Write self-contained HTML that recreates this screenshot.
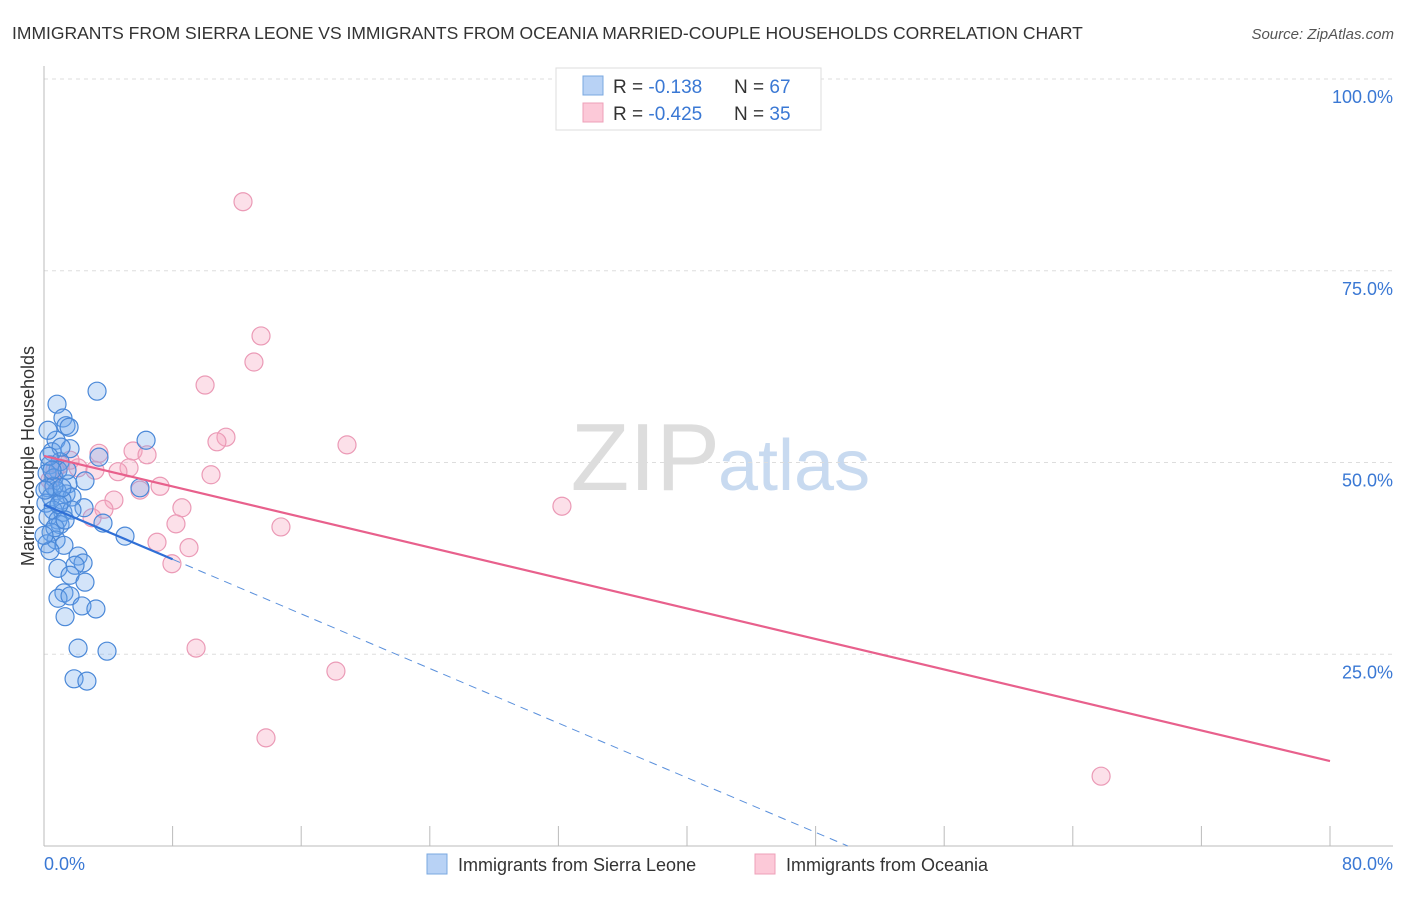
<!DOCTYPE html>
<html><head><meta charset="utf-8"><style>
body{margin:0;background:#fff;font-family:"Liberation Sans",sans-serif}
svg text{font-family:"Liberation Sans",sans-serif}
</style></head><body>
<svg id="c" width="1406" height="892" xmlns="http://www.w3.org/2000/svg">
<text x="12" y="39" font-size="17.5" fill="#333">IMMIGRANTS FROM SIERRA LEONE VS IMMIGRANTS FROM OCEANIA MARRIED-COUPLE HOUSEHOLDS CORRELATION CHART</text>
<text x="1394" y="39" font-size="15" fill="#555" text-anchor="end" font-style="italic">Source: ZipAtlas.com</text>
<text x="720" y="490" font-size="96" fill="#ddd" text-anchor="end" font-family="Liberation Serif">ZIP</text>
<text x="718" y="490" font-size="72" fill="#c8daf0">atlas</text>
<g id="grid"></g><g id="axes"></g><g id="marks"></g>
<text transform="translate(34,456) rotate(-90)" font-size="18" fill="#333" text-anchor="middle">Married-couple Households</text>
<g>
<rect x="556" y="68" width="265" height="62" fill="#fff" stroke="#ddd"/>
<rect x="583" y="76" width="20" height="19" fill="#b8d2f5" stroke="#7aa8e0"/>
<rect x="583" y="103" width="20" height="19" fill="#fcc9d8" stroke="#eea0b8"/>
<text x="613" y="93" font-size="19" fill="#333">R = <tspan fill="#3a78d4">-0.138</tspan><tspan x="734">N = </tspan><tspan fill="#3a78d4">67</tspan></text>
<text x="613" y="120" font-size="19" fill="#333">R = <tspan fill="#3a78d4">-0.425</tspan><tspan x="734">N = </tspan><tspan fill="#3a78d4">35</tspan></text>
</g>
<g>
<rect x="427" y="854" width="20" height="20" fill="#b8d2f5" stroke="#7aa8e0"/>
<text x="458" y="871" font-size="18" fill="#333">Immigrants from Sierra Leone</text>
<rect x="755" y="854" width="20" height="20" fill="#fcc9d8" stroke="#eea0b8"/>
<text x="786" y="871" font-size="18" fill="#333">Immigrants from Oceania</text>
</g>
</svg>
<script>
const blueX=[3.30,0.81,1.18,1.37,1.56,0.75,6.35,1.62,0.50,3.42,1.00,0.37,0.87,0.19,0.62,2.55,1.49,0.25,0.81,1.37,1.74,0.44,1.12,0.12,2.49,0.56,1.18,0.25,0.87,3.67,1.00,0.44,5.04,0.75,0.19,1.24,0.37,2.12,2.43,1.93,0.87,1.62,2.55,1.24,0.87,1.62,2.36,3.23,1.31,2.12,3.92,1.87,2.67,5.97,1.06,0.62,0.06,0.31,1.43,0.68,0.0,1.74,1.12,0.25,0.93,1.31,0.50];
const blueY=[59.3,57.6,55.8,54.8,54.6,52.9,52.9,51.8,51.4,50.7,50.1,49.7,49.0,48.6,48.0,47.6,47.2,46.7,46.3,45.9,45.5,45.5,45.1,44.7,44.1,43.8,43.5,42.9,42.5,42.1,41.9,40.9,40.4,39.9,39.4,39.2,38.5,37.8,36.9,36.6,36.2,35.3,34.4,33.0,32.3,32.6,31.3,30.9,29.9,25.8,25.4,21.8,21.5,46.7,52.0,46.9,46.4,50.8,49.0,41.5,40.5,43.8,46.7,54.2,44.5,42.5,49.0];
const pinkX=[12.38,13.50,13.06,10.02,11.32,10.76,18.85,3.42,5.54,6.41,5.29,4.60,10.39,2.12,7.22,5.97,4.35,8.58,3.73,2.99,8.21,32.22,14.74,7.03,9.02,7.96,9.46,18.16,13.81,65.76,1.62,1.00,0.68,3.17,0.37];
const pinkY=[84.0,66.5,63.1,60.1,53.3,52.7,52.3,51.2,51.5,51.0,49.3,48.8,48.4,49.3,46.9,46.4,45.1,44.1,43.9,42.8,42.0,44.3,41.6,39.6,38.9,36.8,25.8,22.8,14.1,9.1,50.3,49.7,49.0,49.0,47.7];
const yTicks=[25,50,75,100];
const yTickLabels=["25.0%","50.0%","75.0%","100.0%"];
const xTicks=[0,8,16,24,32,40,48,56,64,72,80];
const xTickLabels=["0.0%","80.0%"];
const blueTrend=[44.5,0,8,50];   // y at 0, y at end(0) x-end, solid end x, dashed end x
const pinkTrend=[50.85,11.08];
const NS="http://www.w3.org/2000/svg";
const X=v=>44+v*(1286/80), Y=v=>846-v*7.67;
function mk(t,a,p){const e=document.createElementNS(NS,t);for(const k in a)e.setAttribute(k,a[k]);document.getElementById(p).appendChild(e);return e;}
yTicks.forEach((v,i)=>{
 const l=mk('line',{x1:44,x2:1393,y1:Y(v),y2:Y(v),stroke:'#ddd','stroke-dasharray':'4,4'},'grid');
 
 
 const t=mk('text',{x:1393,y:Y(v)+24,'font-size':18,fill:'#3a78d4','text-anchor':'end'},'axes');t.textContent=yTickLabels[i];
 
 
});
const ax=mk('line',{x1:44,x2:44,y1:66,y2:846,stroke:'#bbb'},'axes');


const bx=mk('line',{x1:44,x2:1393,y1:846,y2:846,stroke:'#bbb'},'axes');


xTicks.forEach(v=>{const l=mk('line',{x1:X(v),x2:X(v),y1:826,y2:846,stroke:'#bbb'},'axes');
 
 });
const t0=mk('text',{x:44,y:870,'font-size':18,fill:'#3a78d4'},'axes');t0.textContent=xTickLabels[0];


const t1=mk('text',{x:1393,y:870,'font-size':18,fill:'#3a78d4','text-anchor':'end'},'axes');t1.textContent=xTickLabels[1];


pinkX.forEach((x,i)=>{const c=mk('circle',{cx:X(x),cy:Y(pinkY[i]),r:9,fill:'rgba(246,165,192,0.35)',stroke:'#eb9ab6','stroke-width':1.2},'marks');
 
 });
blueX.forEach((x,i)=>{const c=mk('circle',{cx:X(x),cy:Y(blueY[i]),r:9,fill:'rgba(110,165,235,0.3)',stroke:'#4a88d8','stroke-width':1.2},'marks');
 
 });
const bf=v=>blueTrend[0]+(blueTrend[1]-blueTrend[0])*v/blueTrend[3];
const bs=mk('line',{x1:X(0),y1:Y(bf(0)),x2:X(blueTrend[2]),y2:Y(bf(blueTrend[2])),stroke:'#2f6fd6','stroke-width':2.2},'marks');


const bd=mk('line',{x1:X(blueTrend[2]),y1:Y(bf(blueTrend[2])),x2:X(blueTrend[3]),y2:Y(bf(blueTrend[3])),stroke:'#5a90dc','stroke-width':1,'stroke-dasharray':'8,6'},'marks');


const pl=mk('line',{x1:X(0),y1:Y(pinkTrend[0]),x2:X(80),y2:Y(pinkTrend[1]),stroke:'#e8608c','stroke-width':2.2},'marks');


</script>
</body></html>
